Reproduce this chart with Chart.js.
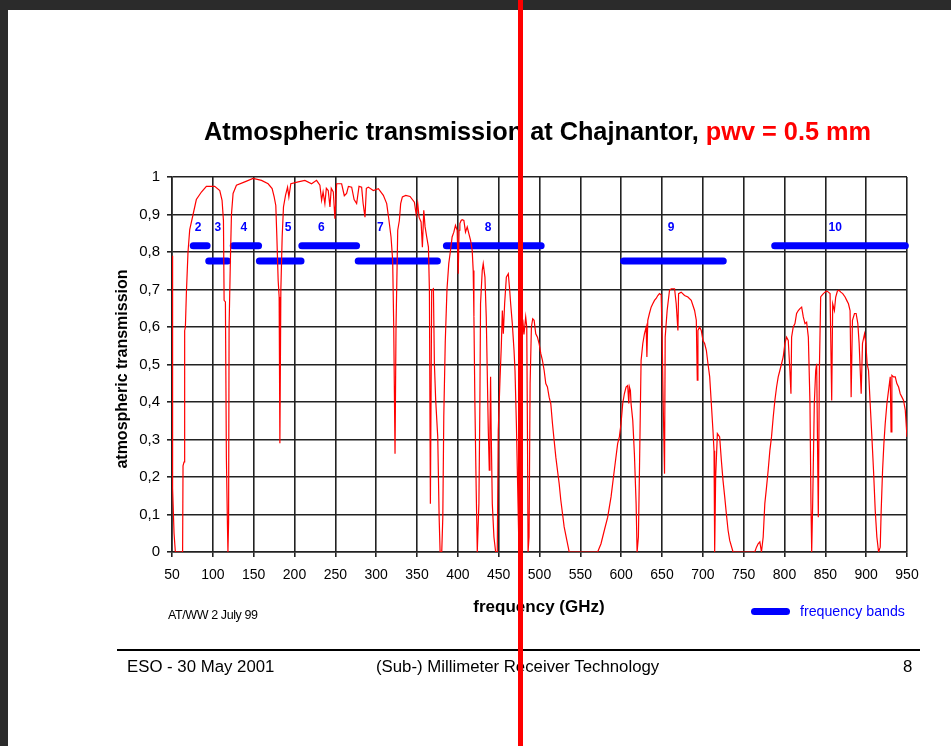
<!DOCTYPE html>
<html>
<head>
<meta charset="utf-8">
<script src="https://cdn.jsdelivr.net/npm/chart.js@4.4.1/dist/chart.umd.min.js"></script>
<style>
  html, body { margin: 0; padding: 0; }
  body { width: 951px; height: 746px; background: #2b2b2b; position: relative; overflow: hidden;
         font-family: 'Liberation Sans', Arial, sans-serif; }
  .slide { position: absolute; left: 8px; top: 10px; right: 0; bottom: 0; background: #fff; }
  #chart { position: absolute; left: 0; top: 0; }
  .txt { position: absolute; white-space: nowrap; color: #000; }
  .title { left: 204px; top: 116px; font-size: 25.3px; line-height: 30px; font-weight: bold; }
  .title span { color: #ff0000; }
  .ytitle { left: 2px; top: 359px; width: 240px; height: 20px; line-height: 20px; text-align: center;
            font-size: 16px; font-weight: bold; transform: rotate(-90deg); }
  .xtitle { left: 439px; top: 597px; width: 200px; line-height: 20px; text-align: center;
            font-size: 17px; font-weight: bold; }
  .note { left: 168px; top: 608px; font-size: 12.5px; line-height: 14px; letter-spacing: -0.4px; }
  .legline { position: absolute; left: 751px; top: 608px; width: 39px; height: 7px; background: #0000ff; border-radius: 3.5px; }
  .legtxt { left: 800px; top: 603px; font-size: 14.2px; line-height: 17px; color: #0000ff; }
  .rule { position: absolute; left: 117px; top: 649px; width: 803px; height: 1.5px; background: #000; }
  .foot { top: 656px; font-size: 16.8px; line-height: 22px; }
  .marker { position: absolute; left: 518px; top: 0; width: 5px; height: 746px; background: #ff0000; }
</style>
</head>
<body>
<div class="slide"></div>
<canvas id="chart" width="951" height="746"></canvas>
<div class="txt title">Atmospheric transmission at Chajnantor, <span>pwv = 0.5 mm</span></div>
<div class="txt ytitle">atmospheric transmission</div>
<div class="txt xtitle">frequency (GHz)</div>
<div class="txt note">AT/WW 2 July 99</div>
<div class="legline"></div>
<div class="txt legtxt">frequency bands</div>
<div class="rule"></div>
<div class="txt foot" style="left:127px">ESO - 30 May 2001</div>
<div class="txt foot" style="left:376px">(Sub-) Millimeter Receiver Technology</div>
<div class="txt foot" style="left:903px">8</div>
<div class="marker"></div>
<script>
// transmission curve (GHz / fraction)
const freqGHz = [
  50.0, 50.4, 50.6, 51.2, 52.5, 54.1, 62.3, 63.0, 63.5, 64.7,
  65.5, 66.4, 67.6, 69.6, 71.7, 75.8, 79.8, 86.0, 92.1, 102.3,
  108.5, 111.3, 113.0, 113.8, 115.4, 116.6, 117.9, 118.5, 119.3, 119.9,
  121.5, 122.8, 124.8, 128.9, 139.1, 149.3, 159.6, 167.7, 172.6, 175.1,
  177.1, 178.4, 180.0, 181.2, 182.1, 183.3, 184.9, 186.5, 189.0, 191.5,
  193.1, 195.5, 204.5, 212.7, 220.9, 227.0, 231.1, 233.2, 235.0, 237.2,
  239.0, 241.3, 243.4, 245.0, 247.5, 249.5, 251.6, 257.7, 261.0, 263.8,
  266.0, 270.0, 273.0, 276.1, 279.0, 282.2, 284.0, 286.3, 288.0, 290.4,
  296.5, 302.7, 308.8, 312.9, 315.7, 318.2, 320.2, 321.5, 323.1, 324.3,
  326.4, 328.4, 330.0, 332.1, 336.2, 341.5, 346.8, 349.0, 350.9, 352.5,
  355.0, 356.6, 358.3, 359.9, 361.9, 364.0, 365.2, 366.4, 368.0, 370.1,
  371.3, 372.9, 375.4, 377.1, 378.3, 380.3, 381.6, 382.8, 384.6, 386.7,
  388.9, 391.0, 393.0, 395.1, 397.1, 399.2, 400.5, 401.5, 402.5, 404.1,
  405.3, 407.4, 409.4, 411.5, 413.5, 415.6, 417.6, 418.8, 419.7, 420.9,
  422.5, 423.8, 425.8, 427.0, 427.8, 429.9, 431.1, 433.2, 434.8, 436.0,
  437.3, 438.5, 439.3, 440.1, 440.8, 442.2, 444.2, 446.3, 448.3, 449.5,
  451.6, 453.2, 454.5, 455.7, 457.3, 459.4, 461.8, 463.5, 464.7, 466.7,
  468.8, 470.0, 471.7, 473.7, 474.9, 477.0, 479.5, 481.0, 483.1, 484.4,
  485.3, 486.0, 487.2, 488.5, 490.1, 491.7, 493.4, 495.4, 497.5, 499.5,
  501.6, 503.6, 505.7, 507.7, 509.7, 511.8, 513.8, 515.9, 517.9, 520.0,
  522.0, 524.1, 526.1, 528.2, 530.2, 533.5, 536.4, 571.2, 575.3, 579.4,
  583.5, 587.6, 591.6, 595.7, 597.8, 599.8, 601.9, 603.9, 606.0, 608.0,
  609.3, 610.1, 611.3, 612.1, 614.2, 616.2, 618.3, 619.5, 621.1, 622.4,
  623.6, 624.4, 626.5, 628.5, 630.6, 631.5, 632.6, 634.6, 636.7, 638.7,
  640.8, 642.8, 644.9, 646.9, 649.0, 650.2, 651.4, 653.1, 653.9, 656.3,
  659.2, 661.3, 665.4, 667.4, 669.5, 670.3, 673.5, 677.6, 681.7, 685.8,
  689.9, 692.0, 693.2, 694.0, 696.1, 698.1, 700.2, 702.2, 704.3, 706.3,
  708.4, 710.4, 712.4, 713.7, 714.5, 715.7, 717.8, 720.6, 722.7, 724.7,
  726.8, 728.8, 730.9, 732.9, 737.0, 763.6, 765.7, 767.7, 769.8, 771.8,
  773.9, 775.9, 778.0, 780.0, 782.1, 784.1, 786.2, 788.2, 790.3, 792.3,
  794.3, 796.4, 798.4, 800.5, 802.5, 804.6, 806.6, 807.9, 808.7, 810.7,
  812.8, 814.8, 816.9, 818.9, 821.0, 823.0, 825.1, 827.1, 829.2, 831.2,
  832.4, 833.3, 834.5, 836.5, 838.2, 839.4, 841.4, 842.7, 844.3, 845.5,
  847.6, 849.6, 851.7, 853.7, 855.8, 857.8, 859.0, 861.1, 862.7, 864.8,
  866.8, 868.9, 871.3, 874.2, 876.2, 878.3, 880.3, 881.6, 883.2, 885.7,
  887.7, 889.8, 891.4, 893.9, 895.5, 898.0, 899.6, 901.2, 902.9, 904.9,
  907.0, 909.0, 911.1, 913.1, 915.2, 917.2, 918.4, 920.1, 921.7, 923.3,
  925.4, 927.4, 929.5, 930.5, 931.5, 933.6, 935.6, 937.6, 939.7, 941.7,
  943.8, 945.8, 947.9, 950.0
];
const transmission = [
  0.79, 0.75, 0.61, 0.17, 0.05, 0.00, 0.00, 0.01, 0.23, 0.24,
  0.59, 0.60, 0.69, 0.80, 0.86, 0.90, 0.94, 0.96, 0.975, 0.975,
  0.964, 0.938, 0.884, 0.671, 0.667, 0.25, 0.07, 0.00, 0.08, 0.60,
  0.78, 0.90, 0.956, 0.978, 0.987, 0.996, 0.991, 0.982, 0.969, 0.947,
  0.924, 0.84, 0.724, 0.68, 0.29, 0.70, 0.84, 0.92, 0.951, 0.973,
  0.947, 0.982, 0.987, 0.991, 0.982, 0.991, 0.978, 0.938, 0.96, 0.929,
  0.97, 0.964, 0.92, 0.97, 0.96, 0.889, 0.982, 0.982, 0.95, 0.956,
  0.975, 0.973, 0.94, 0.929, 0.975, 0.973, 0.93, 0.893, 0.97, 0.973,
  0.964, 0.969, 0.951, 0.929, 0.884, 0.84, 0.778, 0.60, 0.262, 0.60,
  0.858, 0.884, 0.929, 0.947, 0.951, 0.948, 0.933, 0.90, 0.929, 0.893,
  0.88, 0.813, 0.911, 0.867, 0.84, 0.813, 0.698, 0.129, 0.698, 0.702,
  0.502, 0.404, 0.307, 0.093, 0.00, 0.00, 0.093, 0.36, 0.56, 0.70,
  0.769, 0.804, 0.84, 0.853, 0.871, 0.858, 0.742, 0.858, 0.876, 0.884,
  0.886, 0.884, 0.853, 0.867, 0.849, 0.831, 0.804, 0.751, 0.627, 0.396,
  0.164, 0.00, 0.129, 0.396, 0.662, 0.751, 0.769, 0.733, 0.627, 0.484,
  0.324, 0.218, 0.324, 0.467, 0.33, 0.129, 0.04, 0.00, 0.00, 0.324,
  0.458, 0.547, 0.644, 0.582, 0.662, 0.733, 0.742, 0.698, 0.662, 0.609,
  0.538, 0.484, 0.342, 0.129, 0.00, 0.35, 0.62, 0.58, 0.627, 0.60,
  0.30, 0.00, 0.04, 0.449, 0.60, 0.622, 0.618, 0.582, 0.573, 0.556,
  0.529, 0.511, 0.484, 0.449, 0.44, 0.413, 0.396, 0.342, 0.298, 0.253,
  0.218, 0.182, 0.138, 0.102, 0.067, 0.031, 0.00, 0.00, 0.022, 0.058,
  0.093, 0.147, 0.218, 0.289, 0.307, 0.342, 0.396, 0.422, 0.44, 0.444,
  0.396, 0.44, 0.431, 0.396, 0.351, 0.262, 0.129, 0.00, 0.04, 0.218,
  0.396, 0.511, 0.556, 0.582, 0.60, 0.52, 0.618, 0.636, 0.653, 0.662,
  0.671, 0.676, 0.684, 0.689, 0.686, 0.573, 0.404, 0.209, 0.573, 0.644,
  0.698, 0.702, 0.702, 0.662, 0.591, 0.689, 0.693, 0.684, 0.68, 0.671,
  0.644, 0.618, 0.458, 0.591, 0.60, 0.591, 0.564, 0.556, 0.538, 0.502,
  0.467, 0.396, 0.324, 0.27, 0.00, 0.20, 0.316, 0.307, 0.244, 0.191,
  0.147, 0.102, 0.058, 0.031, 0.00, 0.00, 0.013, 0.022, 0.027, 0.00,
  0.04, 0.129, 0.173, 0.218, 0.271, 0.307, 0.36, 0.404, 0.44, 0.467,
  0.484, 0.502, 0.52, 0.556, 0.573, 0.564, 0.484, 0.422, 0.573, 0.60,
  0.609, 0.636, 0.644, 0.649, 0.653, 0.627, 0.609, 0.613, 0.573, 0.396,
  0.129, 0.00, 0.129, 0.396, 0.484, 0.502, 0.093, 0.484, 0.68, 0.684,
  0.689, 0.693, 0.696, 0.693, 0.689, 0.404, 0.662, 0.644, 0.68, 0.696,
  0.698, 0.693, 0.689, 0.68, 0.671, 0.662, 0.644, 0.413, 0.618, 0.636,
  0.636, 0.609, 0.556, 0.422, 0.556, 0.582, 0.556, 0.502, 0.484, 0.396,
  0.307, 0.218, 0.111, 0.04, 0.00, 0.013, 0.111, 0.218, 0.289, 0.342,
  0.396, 0.431, 0.467, 0.32, 0.471, 0.467, 0.467, 0.449, 0.44, 0.422,
  0.413, 0.404, 0.378, 0.307
];

// ALMA receiver bands (GHz), drawn as bars at two staggered levels
const bandNames = ['2', '3', '4', '5', '6', '7', '8', '9', '10'];
const bandStart = [76, 95, 125, 157, 209, 278, 386, 603, 788];
const bandEnd   = [93, 118, 156, 208, 276, 375, 502, 725, 948];
const bandLevel = [0.817, 0.776, 0.817, 0.776, 0.817, 0.776, 0.817, 0.776, 0.817];
const bandLabelFreq = [82, 106, 138, 192, 233, 305, 437, 661, 862];
const bandLabelLevel = 0.866;

const xTicks = [50, 100, 150, 200, 250, 300, 350, 400, 450, 500, 550, 600, 650, 700, 750, 800, 850, 900, 950];
const yTicks = [0, 0.1, 0.2, 0.3, 0.4, 0.5, 0.6, 0.7, 0.8, 0.9, 1];
const yTickLabels = ['0', '0,1', '0,2', '0,3', '0,4', '0,5', '0,6', '0,7', '0,8', '0,9', '1'];

Chart.defaults.font.family = "'Liberation Sans', Arial, sans-serif";
Chart.defaults.color = '#000';

const curve = freqGHz.map((f, i) => ({ x: f, y: transmission[i] }));

const datasets = [{
  label: 'transmission',
  data: curve,
  borderColor: '#ff0000',
  borderWidth: 1.2,
  pointRadius: 0,
  tension: 0
}];
bandNames.forEach((name, i) => {
  datasets.push({
    label: 'band ' + name,
    data: [{ x: bandStart[i], y: bandLevel[i] }, { x: bandEnd[i], y: bandLevel[i] }],
    borderColor: '#0000ff',
    borderWidth: 7,
    borderCapStyle: 'round',
    pointRadius: 0,
    clip: false
  });
});

const bandLabels = {
  id: 'bandLabels',
  afterDatasetsDraw(chart) {
    const { ctx, scales: { x, y } } = chart;
    ctx.save();
    ctx.fillStyle = '#0000ff';
    ctx.font = "bold 12px 'Liberation Sans', Arial, sans-serif";
    ctx.textAlign = 'center';
    ctx.textBaseline = 'middle';
    bandNames.forEach((name, i) => {
      ctx.fillText(name, x.getPixelForValue(bandLabelFreq[i]), y.getPixelForValue(bandLabelLevel));
    });
    ctx.restore();
  }
};

const gridColor = '#222';

new Chart(document.getElementById('chart'), {
  type: 'line',
  data: { datasets },
  plugins: [bandLabels],
  options: {
    responsive: false,
    animation: false,
    devicePixelRatio: 1,
    layout: { padding: { left: 122, right: 44, top: 177, bottom: 154 } },
    plugins: { legend: { display: false }, tooltip: { enabled: false } },
    scales: {
      x: {
        type: 'linear',
        min: 50, max: 950,
        afterBuildTicks: s => { s.ticks = xTicks.map(v => ({ value: v })); },
        afterFit: s => { s.height = 40; },
        ticks: { font: { size: 14 }, padding: 10, maxRotation: 0, autoSkip: false },
        grid: { color: gridColor, lineWidth: 1.6, tickLength: 5 },
        border: { color: gridColor, width: 1.6 }
      },
      y: {
        type: 'linear',
        min: 0, max: 1,
        afterBuildTicks: s => { s.ticks = yTicks.map(v => ({ value: v })); },
        afterFit: s => { s.width = 50; },
        ticks: { font: { size: 15 }, padding: 7, callback: (v, i) => yTickLabels[i] },
        grid: { color: gridColor, lineWidth: 1.6, tickLength: 5 },
        border: { color: gridColor, width: 1.6 }
      }
    }
  }
});
</script>
</body>
</html>
